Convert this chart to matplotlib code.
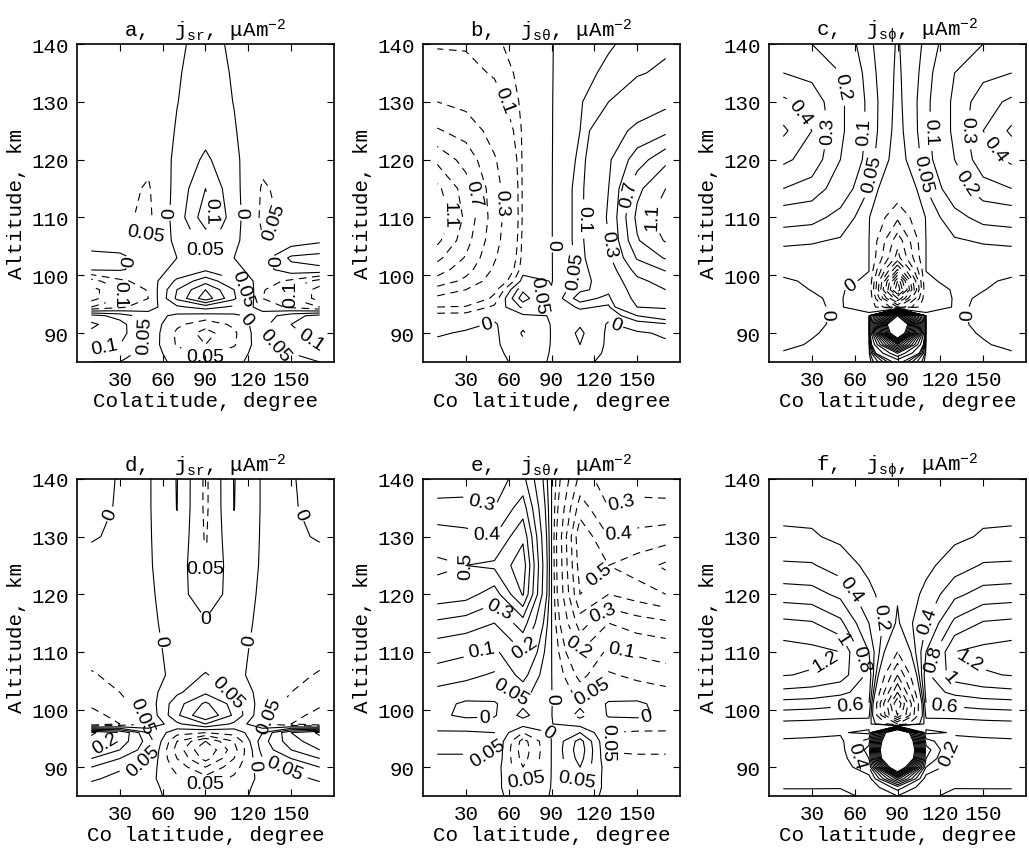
import numpy as np
import matplotlib
matplotlib.use('Agg')
import matplotlib.pyplot as plt
from matplotlib.path import Path

plt.rcParams['font.family'] = 'Liberation Mono'
plt.rcParams['mathtext.fontset'] = 'custom'
plt.rcParams['mathtext.rm'] = 'Liberation Mono'
plt.rcParams['mathtext.it'] = 'Liberation Mono'
plt.rcParams['contour.negative_linestyle'] = 'dashed'
plt.rcParams['lines.dashed_pattern'] = [7, 5]

# grid: colatitude columns, altitude rows (top to bottom)
colat = [10, 30, 50, 70, 90, 110, 130, 150, 170]
alt = [140, 135, 130, 125, 120, 115, 110, 106, 103, 101, 99, 97.5, 96, 94.5,
       93, 91.5, 90, 88, 86.5, 85]

# a: radial current, case 1
jsr_1 = [
    [-0.01, -0.01, -0.01, -0.005, 0.01, -0.005, -0.01, -0.01, -0.01],
    [-0.01, -0.01, -0.012, -0.003, 0.015, -0.003, -0.012, -0.01, -0.01],
    [-0.015, -0.02, -0.02, -0.001, 0.02, -0.001, -0.02, -0.02, -0.015],
    [-0.02, -0.025, -0.03, 0.003, 0.03, 0.003, -0.03, -0.025, -0.02],
    [-0.02, -0.03, -0.04, 0.01, 0.06, 0.01, -0.04, -0.03, -0.02],
    [-0.02, -0.035, -0.055, 0.015, 0.10, 0.015, -0.055, -0.035, -0.02],
    [-0.02, -0.04, -0.06, 0.02, 0.13, 0.02, -0.06, -0.04, -0.02],
    [-0.015, -0.03, -0.048, 0.012, 0.07, 0.012, -0.048, -0.03, -0.01],
    [0.01, 0.012, -0.02, 0.0, 0.03, 0.0, -0.02, 0.06, 0.07],
    [0.005, 0.005, -0.02, 0.01, 0.04, 0.01, -0.02, 0.03, 0.04],
    [-0.12, -0.06, -0.03, 0.06, 0.13, 0.06, -0.03, -0.06, -0.12],
    [-0.17, -0.1, -0.045, 0.1, 0.2, 0.1, -0.045, -0.1, -0.17],
    [-0.17, -0.1, -0.05, 0.11, 0.23, 0.11, -0.05, -0.1, -0.17],
    [-0.1, -0.06, -0.02, 0.04, 0.07, 0.04, -0.02, -0.06, -0.1],
    [0.12, 0.08, 0.02, -0.01, -0.02, -0.01, 0.02, 0.08, 0.12],
    [0.16, 0.12, 0.035, -0.04, -0.08, -0.04, 0.035, 0.1, 0.14],
    [0.14, 0.12, 0.04, -0.06, -0.12, -0.06, 0.04, 0.09, 0.12],
    [0.12, 0.1, 0.035, -0.055, -0.1, -0.055, 0.035, 0.07, 0.1],
    [0.08, 0.07, 0.03, -0.03, -0.06, -0.03, 0.03, 0.05, 0.07],
    [0.05, 0.05, 0.02, -0.01, -0.03, -0.01, 0.02, 0.03, 0.05],
]

# b: meridional current, case 1
jst_1 = [
    [-0.09, -0.09, -0.06, -0.025, -0.002, 0.03, 0.045, 0.065, 0.08],
    [-0.15, -0.13, -0.09, -0.03, -0.002, 0.035, 0.06, 0.09, 0.12],
    [-0.3, -0.24, -0.14, -0.035, -0.002, 0.045, 0.1, 0.17, 0.25],
    [-0.52, -0.42, -0.22, -0.04, -0.002, 0.05, 0.2, 0.35, 0.45],
    [-0.85, -0.62, -0.32, -0.04, -0.002, 0.06, 0.27, 0.6, 0.85],
    [-1.15, -0.8, -0.38, -0.04, -0.002, 0.07, 0.3, 0.85, 1.1],
    [-1.3, -0.85, -0.4, -0.04, -0.002, 0.07, 0.32, 0.95, 1.25],
    [-1.15, -0.78, -0.37, -0.035, -0.002, 0.07, 0.3, 0.88, 1.12],
    [-0.95, -0.68, -0.32, -0.03, -0.002, 0.065, 0.26, 0.72, 0.92],
    [-0.8, -0.58, -0.27, -0.02, -0.002, 0.06, 0.2, 0.58, 0.72],
    [-0.62, -0.45, -0.2, 0.02, -0.002, 0.06, 0.16, 0.45, 0.58],
    [-0.42, -0.3, -0.12, 0.09, 0.002, 0.09, 0.12, 0.4, 0.5],
    [-0.25, -0.2, -0.08, 0.13, 0.002, 0.13, 0.08, 0.36, 0.42],
    [-0.1, -0.09, -0.04, 0.06, 0.002, 0.06, 0.04, 0.3, 0.33],
    [-0.03, -0.03, -0.01, -0.01, 0.002, 0.02, 0.01, 0.1, 0.15],
    [-0.01, -0.01, 0.005, -0.04, 0.002, 0.045, -0.005, 0.02, 0.04],
    [-0.005, 0.005, 0.01, -0.055, 0.002, 0.06, -0.01, -0.005, 0.005],
    [0.01, 0.01, 0.01, -0.04, 0.002, 0.05, -0.01, -0.01, -0.005],
    [0.01, 0.01, 0.01, -0.02, 0.002, 0.03, -0.01, -0.01, -0.01],
    [0.01, 0.01, 0.01, -0.01, 0.002, 0.01, -0.01, -0.01, -0.01],
]

# c: zonal current, case 1
jsp_1 = [
    [0.22, 0.2, 0.15, 0.06, -0.005, 0.06, 0.15, 0.2, 0.22],
    [0.3, 0.27, 0.2, 0.07, -0.01, 0.07, 0.2, 0.27, 0.3],
    [0.42, 0.36, 0.22, 0.08, -0.015, 0.08, 0.22, 0.36, 0.42],
    [0.52, 0.4, 0.22, 0.08, -0.02, 0.08, 0.22, 0.4, 0.52],
    [0.42, 0.36, 0.2, 0.07, -0.03, 0.07, 0.2, 0.36, 0.42],
    [0.3, 0.26, 0.14, 0.05, -0.1, 0.05, 0.14, 0.26, 0.3],
    [0.13, 0.12, 0.08, 0.02, -0.9, 0.02, 0.08, 0.12, 0.13],
    [0.06, 0.055, 0.045, 0.005, -1.8, 0.005, 0.045, 0.055, 0.06],
    [0.03, 0.03, 0.03, 0.004, -2.2, 0.004, 0.03, 0.03, 0.03],
    [0.01, 0.015, 0.02, 0.002, -3.5, 0.002, 0.02, 0.015, 0.01],
    [-0.005, 0.005, 0.015, -0.01, -5.5, -0.01, 0.015, 0.005, -0.005],
    [-0.01, 0.001, 0.01, -0.05, -6.0, -0.05, 0.01, 0.001, -0.01],
    [-0.01, -0.005, 0.008, -0.08, -4.0, -0.08, 0.008, -0.005, -0.01],
    [-0.01, -0.006, 0.006, -0.05, -2.0, -0.05, 0.006, -0.006, -0.01],
    [-0.01, -0.006, 0.005, 0.03, 9.0, 0.03, 0.005, -0.006, -0.01],
    [-0.01, -0.005, 0.005, 0.045, 14.0, 0.045, 0.005, -0.005, -0.01],
    [-0.01, -0.002, 0.006, 0.04, 12.0, 0.04, 0.006, -0.002, -0.01],
    [-0.005, 0.002, 0.008, 0.03, 5.0, 0.03, 0.008, 0.002, -0.005],
    [0.002, 0.005, 0.01, 0.02, 2.0, 0.02, 0.01, 0.005, 0.002],
    [0.005, 0.008, 0.01, 0.01, 0.6, 0.01, 0.01, 0.008, 0.005],
]

# d: radial current, case 2
jsr_2 = [
    [0.01, -0.002, -0.005, 0.052, -0.06, 0.052, -0.005, -0.002, 0.01],
    [0.006, -0.002, -0.005, 0.051, -0.06, 0.051, -0.005, -0.002, 0.006],
    [0.001, -0.002, -0.005, 0.04, -0.055, 0.04, -0.005, -0.002, 0.001],
    [-0.004, -0.003, -0.005, 0.03, -0.052, 0.03, -0.005, -0.003, -0.004],
    [-0.006, -0.005, -0.006, 0.02, -0.03, 0.02, -0.006, -0.005, -0.006],
    [-0.01, -0.01, -0.008, 0.015, 0.005, 0.015, -0.008, -0.01, -0.01],
    [-0.03, -0.02, -0.01, 0.01, 0.01, 0.01, -0.01, -0.02, -0.03],
    [-0.055, -0.035, -0.015, 0.01, 0.055, 0.01, -0.015, -0.035, -0.055],
    [-0.07, -0.05, -0.02, 0.04, 0.09, 0.04, -0.02, -0.05, -0.07],
    [-0.09, -0.06, -0.03, 0.08, 0.16, 0.08, -0.03, -0.06, -0.09],
    [-0.12, -0.08, -0.04, 0.09, 0.2, 0.09, -0.04, -0.08, -0.12],
    [-0.15, -0.1, -0.05, 0.04, 0.1, 0.04, -0.05, -0.1, -0.15],
    [0.26, 0.2, 0.05, -0.03, -0.05, -0.03, 0.05, 0.2, 0.26],
    [0.23, 0.18, 0.08, -0.1, -0.2, -0.1, 0.08, 0.18, 0.23],
    [0.2, 0.15, 0.07, -0.12, -0.25, -0.12, 0.07, 0.15, 0.2],
    [0.15, 0.1, 0.05, -0.1, -0.22, -0.1, 0.05, 0.1, 0.15],
    [0.1, 0.06, 0.03, -0.07, -0.15, -0.07, 0.03, 0.06, 0.1],
    [0.06, 0.03, 0.015, -0.04, -0.08, -0.04, 0.015, 0.03, 0.06],
    [0.03, 0.01, 0.01, -0.015, -0.03, -0.015, 0.01, 0.01, 0.03],
    [0.01, 0.005, 0.005, -0.005, -0.01, -0.005, 0.005, 0.005, 0.01],
]

# e: meridional current, case 2
jst_2 = [
    [0.24, 0.25, 0.27, 0.33, 0.001, -0.33, -0.27, -0.25, -0.24],
    [0.33, 0.33, 0.3, 0.45, 0.001, -0.45, -0.3, -0.33, -0.33],
    [0.45, 0.43, 0.4, 0.58, 0.001, -0.58, -0.4, -0.43, -0.45],
    [0.52, 0.5, 0.52, 0.66, 0.001, -0.55, -0.5, -0.55, -0.62],
    [0.46, 0.44, 0.35, 0.61, 0.001, -0.5, -0.4, -0.45, -0.5],
    [0.28, 0.25, 0.2, 0.35, 0.001, -0.35, -0.2, -0.25, -0.28],
    [0.13, 0.11, 0.08, 0.2, 0.001, -0.2, -0.08, -0.11, -0.13],
    [0.07, 0.06, 0.045, 0.12, 0.001, -0.12, -0.045, -0.06, -0.07],
    [0.04, 0.03, 0.02, 0.07, 0.001, -0.07, -0.02, -0.03, -0.04],
    [0.02, -0.01, -0.005, 0.04, 0.001, -0.04, 0.005, 0.01, -0.02],
    [0.01, -0.01, -0.005, 0.065, 0.001, -0.065, 0.005, 0.01, -0.01],
    [0.03, 0.025, 0.02, 0.02, 0.001, -0.02, -0.02, -0.025, -0.03],
    [0.055, 0.055, 0.05, -0.05, 0.001, 0.05, -0.05, -0.055, -0.055],
    [0.06, 0.06, 0.055, -0.12, 0.001, 0.12, -0.055, -0.06, -0.06],
    [0.055, 0.055, 0.052, -0.13, 0.001, 0.13, -0.052, -0.055, -0.055],
    [0.045, 0.045, 0.045, -0.12, 0.001, 0.12, -0.045, -0.045, -0.045],
    [0.035, 0.03, 0.03, -0.1, 0.001, 0.1, -0.03, -0.03, -0.035],
    [0.025, 0.02, 0.02, -0.06, 0.001, 0.06, -0.02, -0.02, -0.025],
    [0.015, 0.01, 0.01, -0.03, 0.001, 0.03, -0.01, -0.01, -0.015],
    [0.01, 0.005, 0.005, -0.01, 0.001, 0.01, -0.005, -0.005, -0.01],
]

# f: zonal current, case 2
jsp_2 = [
    [0.1, 0.1, 0.09, 0.05, 0.04, 0.05, 0.09, 0.1, 0.1],
    [0.15, 0.15, 0.12, 0.07, 0.05, 0.07, 0.12, 0.15, 0.15],
    [0.23, 0.22, 0.16, 0.1, 0.05, 0.1, 0.16, 0.22, 0.23],
    [0.43, 0.42, 0.3, 0.15, 0.04, 0.15, 0.3, 0.42, 0.43],
    [0.7, 0.68, 0.55, 0.25, 0.03, 0.25, 0.55, 0.68, 0.7],
    [1.05, 1.02, 0.85, 0.4, -0.02, 0.4, 0.85, 1.02, 1.05],
    [1.3, 1.26, 1.2, 0.6, -0.5, 0.6, 1.2, 1.26, 1.3],
    [1.21, 1.18, 1.1, 0.75, -1.5, 0.75, 1.1, 1.18, 1.21],
    [0.95, 0.92, 0.85, 0.7, -2.5, 0.7, 0.85, 0.92, 0.95],
    [0.72, 0.7, 0.65, 0.6, -3.5, 0.6, 0.65, 0.7, 0.72],
    [0.5, 0.48, 0.45, 0.45, -3.0, 0.45, 0.45, 0.48, 0.5],
    [0.35, 0.34, 0.32, 0.3, -1.0, 0.3, 0.32, 0.34, 0.35],
    [0.25, 0.24, 0.22, 0.15, 5.0, 0.15, 0.22, 0.24, 0.25],
    [0.18, 0.17, 0.16, 0.5, 6.0, 0.5, 0.16, 0.17, 0.18],
    [0.12, 0.12, 0.11, 0.7, 6.5, 0.7, 0.11, 0.12, 0.12],
    [0.08, 0.08, 0.07, 0.6, 6.0, 0.6, 0.07, 0.08, 0.08],
    [0.05, 0.05, 0.045, 0.4, 4.0, 0.4, 0.045, 0.05, 0.05],
    [0.025, 0.025, 0.02, 0.1, 1.5, 0.1, 0.02, 0.025, 0.025],
    [0.011, 0.011, 0.011, 0.03, 0.5, 0.03, 0.011, 0.011, 0.011],
    [0.005, 0.005, 0.004, 0.015, 0.2, 0.015, 0.004, 0.005, 0.005],
]

lev_a = [-0.2, -0.15, -0.1, -0.05, 0, 0.05, 0.1, 0.15, 0.2]
lev_b = [-1.1, -0.9, -0.7, -0.5, -0.3, -0.1, -0.05, 0, 0.05, 0.1, 0.3, 0.5,
         0.7, 0.9, 1.1]
lev_c = [-6, -5.5, -5, -4.5, -4, -3.5, -3, -2.5, -2, -1.5, -1, -0.5, 0, 0.05,
         0.1, 0.2, 0.3, 0.4, 0.5, 1, 1.5, 2, 2.5, 3, 3.5, 4, 4.5, 5, 5.5, 6,
         6.5, 7, 7.5, 8, 8.5, 9]
lev_d = [-0.25, -0.2, -0.15, -0.1, -0.05, 0, 0.05, 0.1, 0.15, 0.2, 0.25]
lev_e = [-0.6, -0.5, -0.4, -0.3, -0.2, -0.1, -0.05, 0, 0.05, 0.1, 0.2, 0.3,
         0.4, 0.5, 0.6]
lev_f = [-4, -3.5, -3, -2.5, -2, -1.5, -1, -0.5, 0.01, 0.2, 0.4, 0.6, 0.8, 1,
         1.2, 1.4, 1.6, 1.8, 2, 2.2, 2.4, 2.6, 2.8, 3]

# which levels carry a number
lab_a = [0, 0.05, 0.1, -0.05, -0.15, 0.15, -0.1]
lab_b = [0, -1.1, 1.1, -0.7, 0.7, -0.3, 0.3, -0.1, 0.1, -0.05, 0.05]
lab_c = [0, -3.5, -1.5, 0.05, 0.1, 0.2, 0.3, 0.4]
lab_d = [0, -0.05, 0.05, -0.2, 0.15, 0.2]
lab_e = [0, 0.05, 0.1, 0.2, 0.3, 0.4, 0.5, -0.05, -0.1, -0.2, -0.3, -0.4,
         -0.5]
lab_f = [0.01, 0.2, 0.4, 0.6, 0.8, 1, 1.2, 1.4, -3]

titles = [r'a,  $\mathrm{j_{sr}}$, μAm$^{-2}$',
          r'b,  $\mathrm{j_{s\theta}}$, μAm$^{-2}$',
          r'c,  $\mathrm{j_{s\phi}}$, μAm$^{-2}$',
          r'd,  $\mathrm{j_{sr}}$, μAm$^{-2}$',
          r'e,  $\mathrm{j_{s\theta}}$, μAm$^{-2}$',
          r'f,  $\mathrm{j_{s\phi}}$, μAm$^{-2}$']
xlabels = ['Colatitude, degree'] + ['Co latitude, degree'] * 5

fields = [jsr_1, jst_1, jsp_1, jsr_2, jst_2, jsp_2]
levels = [lev_a, lev_b, lev_c, lev_d, lev_e, lev_f]
labels = [lab_a, lab_b, lab_c, lab_d, lab_e, lab_f]

lefts = [77, 423, 769]
fig = plt.figure(figsize=(10.29, 8.54), dpi=100)
W, H = 1029, 854
renderer = fig.canvas.get_renderer()
LABEL_FONT = 'Liberation Sans'
LABEL_SIZE = 14


def fmt(v):
    return '%g' % abs(v)


def pieces(path):
    v, c = path.vertices, path.codes
    if len(v) < 2:
        return []
    if c is None:
        return [v]
    cut = np.flatnonzero(c == Path.MOVETO)
    return [p for p in np.split(v, cut[1:]) if len(p) > 1]


def dist_to(pt, px):
    a, b = px[:-1], px[1:]
    ab = b - a
    L2 = (ab ** 2).sum(1)
    L2[L2 == 0] = 1e-9
    t = np.clip(((pt - a) * ab).sum(1) / L2, 0, 1)
    return np.hypot(*(a + ab * t[:, None] - pt).T).min()


def spots(ax, cs, lab):
    # walk each labelled contour and take the first free spot along it:
    # clear of labels already placed and of the neighbouring lines
    tr = ax.transData
    lines = [(i, tr.transform(seg)) for i, p in enumerate(cs.get_paths())
             for seg in pieces(p)]
    box = ax.get_window_extent(renderer)
    placed, out = [], []
    for lv in lab:
        i = list(cs.levels).index(lv)
        t = ax.text(0, 0, fmt(lv), fontsize=LABEL_SIZE, family=LABEL_FONT)
        bb = t.get_window_extent(renderer)
        t.remove()
        half, hh = bb.width / 2, bb.height / 2
        edge = hh * 0.6
        for j, px in lines:
            if j != i:
                continue
            d = np.hypot(*np.diff(px, axis=0).T)
            L = d.sum()
            if L < 2.0 * bb.width:
                continue
            cum = np.concatenate([[0], np.cumsum(d)])
            for f in (0.5, 0.38, 0.62, 0.26, 0.74, 0.15, 0.85):
                pt = np.array([np.interp(f * L, cum, px[:, 0]),
                               np.interp(f * L, cum, px[:, 1])])
                if not (box.x0 + edge < pt[0] < box.x1 - edge and
                        box.y0 + edge < pt[1] < box.y1 - edge):
                    continue
                if any(np.hypot(*(pt - q)) < half + h2 + 3
                       for q, h2 in placed):
                    continue
                others = [dist_to(pt, q) for k, q in lines if k != i]
                if others and min(others) < hh * 0.95:
                    continue
                placed.append((pt, half))
                out.append(tr.inverted().transform(pt))
                break
    return out


for k in range(6):
    row, col = divmod(k, 3)
    top, bot = (45, 363) if row == 0 else (480, 797)
    ax = fig.add_axes([lefts[col] / W, (H - bot) / H, 257 / W, (bot - top) / H])
    ax.set_xlim(0, 180)
    ax.set_ylim(85, 140)
    X, Y = np.meshgrid(colat, alt)
    Z = np.array(fields[k])

    cs = ax.contour(X, Y, Z, levels=levels[k], colors='k', linewidths=0.8)
    where = spots(ax, cs, labels[k])
    # spots sit exactly on their own contour, so the nearest-level search
    # over all levels lands on the intended one
    txt = cs.clabel(fmt=fmt, fontsize=LABEL_SIZE, inline=True,
                    inline_spacing=2, manual=where)
    for t in txt:
        t.set_fontfamily(LABEL_FONT)

    ax.set_xticks([30, 60, 90, 120, 150])
    ax.set_yticks([90, 100, 110, 120, 130, 140])
    ax.tick_params(direction='in', top=True, right=True, length=5,
                   width=0.8, labelsize=15, pad=6)
    for s in ax.spines.values():
        s.set_linewidth(1.2)
    ax.set_xlabel(xlabels[k], fontsize=15, labelpad=1)
    ax.set_ylabel('Altitude, km', fontsize=15, labelpad=4)
    ax.set_title(titles[k], fontsize=15, pad=6)

fig.savefig('out.png', dpi=100)
